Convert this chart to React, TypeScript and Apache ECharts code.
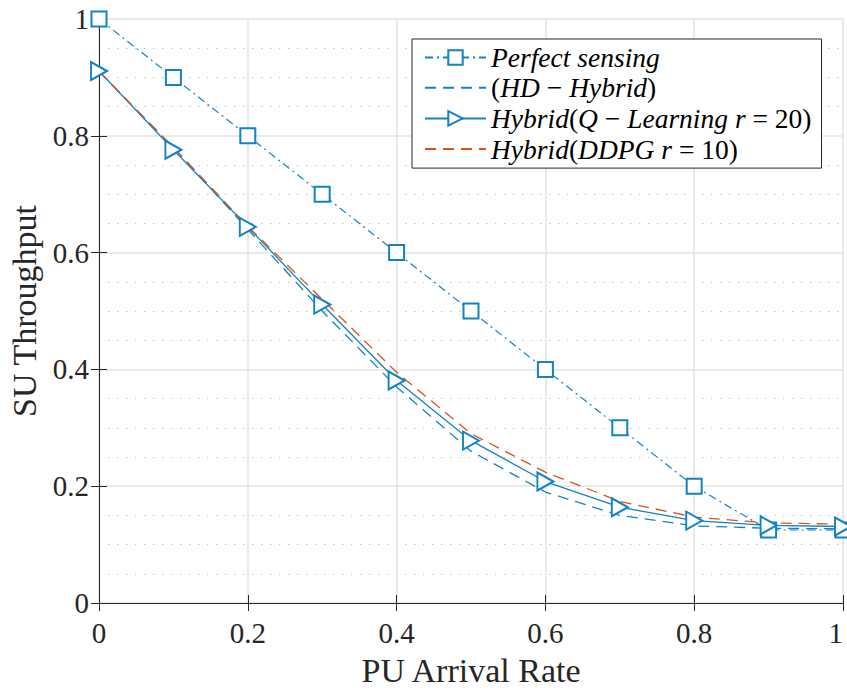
import React, { useEffect, useRef } from "react";
import * as echarts from "echarts";

const xValues = [0, 0.1, 0.2, 0.3, 0.4, 0.5, 0.6, 0.7, 0.8, 0.9, 1];
const perfectSensing = [1, 0.9, 0.8, 0.7, 0.6, 0.5, 0.4, 0.3, 0.2, 0.125, 0.125];
const hdHybrid = [0.91, 0.78, 0.64, 0.5, 0.37, 0.26, 0.19, 0.15, 0.132, 0.128, 0.127];
const qLearning = [0.911, 0.776, 0.644, 0.511, 0.381, 0.278, 0.208, 0.164, 0.141, 0.133, 0.131];
const ddpg = [0.91, 0.78, 0.645, 0.52, 0.395, 0.29, 0.224, 0.174, 0.147, 0.137, 0.135];

const seriesNames = [
  "Perfect sensing",
  "(HD − Hybrid)",
  "Hybrid(Q − Learning r = 20)",
  "Hybrid(DDPG r = 10)",
];
const legendRich: Record<string, string> = {
  "Perfect sensing": "{i|Perfect sensing}",
  "(HD − Hybrid)": "{n|(}{i|HD}{n| − }{i|Hybrid}{n|)}",
  "Hybrid(Q − Learning r = 20)": "{i|Hybrid}{n|(}{i|Q}{n| − }{i|Learning r}{n| = 20)}",
  "Hybrid(DDPG r = 10)": "{i|Hybrid}{n|(}{i|DDPG r}{n| = 10)}",
};

const BLUE = "#1283c4";
const ORANGE = "#d95319";
const FONT = "'Liberation Serif', 'Times New Roman', serif";
const LEGEND_FONT = 27.5;

function pairs(ys: number[]) {
  return xValues.map((x, i) => [x, ys[i]]);
}

export default function App() {
  const ref = useRef<HTMLDivElement>(null);
  useEffect(() => {
    if (!ref.current) return;
    const chart = echarts.init(ref.current, undefined, { renderer: "svg" });
    const axisLine = { show: true, lineStyle: { color: "#262626", width: 1 } };
    chart.setOption({
      animation: false,
      backgroundColor: "#ffffff",
      grid: { left: 99, right: 4, top: 19, bottom: 87, outerBoundsMode: "none", containLabel: false },
      legend: {
        orient: "vertical",
        left: 412,
        top: 39,
        data: [
          { name: seriesNames[0] },
          { name: seriesNames[1], itemStyle: { opacity: 0 } },
          { name: seriesNames[2] },
          { name: seriesNames[3], itemStyle: { opacity: 0 } },
        ],
        itemWidth: 61,
        itemHeight: 18,
        itemGap: 2.7,
        padding: [5, 10, 5, 12],
        backgroundColor: "#ffffff",
        borderColor: "#262626",
        borderWidth: 1,
        borderRadius: 0,
        formatter: (name: string) => legendRich[name] || name,
        textStyle: {
          fontFamily: FONT,
          fontSize: LEGEND_FONT,
          color: "#000",
          lineHeight: 27,
          rich: {
            i: { fontFamily: FONT, fontSize: LEGEND_FONT, fontStyle: "italic", color: "#000" },
            n: { fontFamily: FONT, fontSize: LEGEND_FONT, color: "#000" },
          },
        },
      },
      xAxis: [
        {
          type: "value",
          min: 0,
          max: 1,
          interval: 0.2,
          position: "bottom",
          name: "PU Arrival Rate",
          nameLocation: "middle",
          nameGap: 50,
          nameTextStyle: { fontFamily: FONT, fontSize: 34, lineHeight: 34, color: "#262626" },
          axisLine,
          axisTick: { show: true, inside: true, length: 8, lineStyle: { color: "#262626" } },
          axisLabel: {
            fontFamily: FONT,
            fontSize: 29,
            color: "#262626",
            margin: 15,
            alignMaxLabel: "right",
          },
          splitLine: { show: true, lineStyle: { color: "#e3e3e3", width: 1.5 } },
        },
        {
          type: "value",
          min: 0,
          max: 1,
          interval: 0.2,
          position: "top",
          axisLine,
          axisTick: { show: true, inside: true, length: 8, lineStyle: { color: "#262626" } },
          axisLabel: { show: false },
          splitLine: { show: false },
        },
      ],
      yAxis: [
        {
          type: "value",
          min: 0,
          max: 1,
          interval: 0.2,
          position: "left",
          name: "SU Throughput",
          nameLocation: "middle",
          nameGap: 58,
          nameTextStyle: { fontFamily: FONT, fontSize: 34, color: "#262626" },
          axisLine,
          axisTick: { show: true, inside: true, length: 8, lineStyle: { color: "#262626" } },
          axisLabel: { fontFamily: FONT, fontSize: 29, color: "#262626", margin: 10 },
          splitLine: { show: true, lineStyle: { color: "#e3e3e3", width: 1.5 } },
          minorTick: { show: false, splitNumber: 4 },
          minorSplitLine: { show: true, lineStyle: { color: "#c4c4c4", width: 1, type: [1.5, 7.5] } },
        },
        {
          type: "value",
          min: 0,
          max: 1,
          interval: 0.2,
          position: "right",
          axisLine,
          axisTick: { show: true, inside: true, length: 8, lineStyle: { color: "#262626" } },
          axisLabel: { show: false },
          splitLine: { show: false },
        },
      ],
      series: [
        {
          name: seriesNames[0],
          type: "line",
          data: pairs(perfectSensing),
          symbol: "emptyRect",
          symbolSize: 15,
          itemStyle: { color: BLUE, borderColor: BLUE, borderWidth: 1.3 },
          lineStyle: { color: BLUE, width: 1.2, type: [8, 4, 2, 4] },
          clip: false,
        },
        {
          name: seriesNames[1],
          type: "line",
          data: pairs(hdHybrid),
          symbol: "none",
          itemStyle: { color: BLUE },
          lineStyle: { color: BLUE, width: 1.3, type: [11, 7] },
        },
        {
          name: seriesNames[2],
          type: "line",
          data: pairs(qLearning),
          symbol: "emptyTriangle",
          symbolSize: [18, 16],
          symbolRotate: -90,
          itemStyle: { color: BLUE, borderColor: BLUE, borderWidth: 1.3 },
          lineStyle: { color: BLUE, width: 1.3, type: "solid" },
          clip: false,
        },
        {
          name: seriesNames[3],
          type: "line",
          data: pairs(ddpg),
          symbol: "none",
          itemStyle: { color: ORANGE },
          lineStyle: { color: ORANGE, width: 1.3, type: [11, 7] },
        },
      ],
    });
    return () => chart.dispose();
  }, []);
  return (
    <div
      ref={ref}
      style={{ position: "absolute", left: 0, top: 0, width: 847, height: 690 }}
    />
  );
}
